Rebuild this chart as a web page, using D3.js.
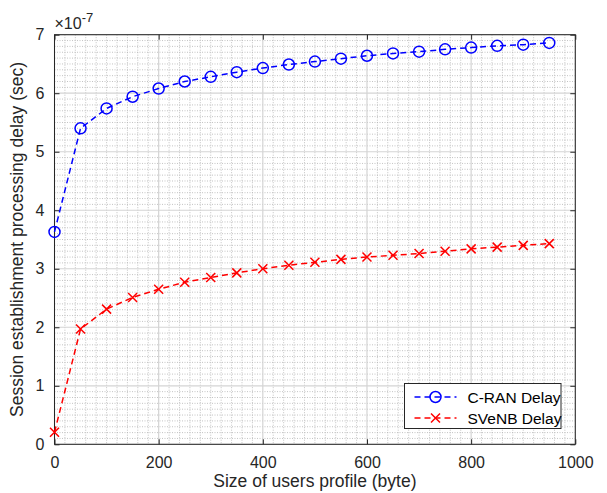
<!DOCTYPE html>
<html><head><meta charset="utf-8">
<script src="https://cdn.jsdelivr.net/npm/d3@7"></script>
<style>body{margin:0;background:#fff}svg{display:block}text{font-family:"Liberation Sans",Arial,sans-serif}</style>
</head><body><svg id="c" width="607" height="493"></svg>
<script>
const xValues = [0,50,100,150,200,250,300,350,400,450,500,550,600,650,700,750,800,850,900,950];
const cranDelay = [3.63,5.40,5.74,5.94,6.08,6.20,6.28,6.36,6.43,6.49,6.54,6.59,6.64,6.68,6.71,6.75,6.78,6.81,6.83,6.86];
const svenbDelay = [0.205,1.97,2.31,2.51,2.65,2.77,2.85,2.93,3.00,3.06,3.11,3.16,3.20,3.23,3.26,3.30,3.34,3.37,3.40,3.43];
const xTicks = [0,200,400,600,800,1000];
const yTicks = [0,1,2,3,4,5,6,7];
const seriesNames = ["C-RAN Delay","SVeNB Delay"];

const svg = d3.select("#c");
const L=54.5, R=575.3, T=34.7, B=444.3;
const x = d3.scaleLinear().domain([0,1000]).range([L,R]);
const y = d3.scaleLinear().domain([0,7]).range([B,T]);

const g = svg.append("g");
// minor grid
const xMinor = d3.range(0,1001,20).filter(v=>v%200!==0);
const yMinor = d3.range(0,71,1).map(v=>v/10).filter((v,i)=>i%10!==0);
g.selectAll(".xm").data(xMinor).enter().append("line")
 .attr("x1",d=>x(d)).attr("x2",d=>x(d)).attr("y1",T).attr("y2",B)
 .attr("stroke","#b4b4b4").attr("stroke-width",0.8).attr("stroke-dasharray","1,1.5");
g.selectAll(".ym").data(yMinor).enter().append("line")
 .attr("y1",d=>y(d)).attr("y2",d=>y(d)).attr("x1",L).attr("x2",R)
 .attr("stroke","#b4b4b4").attr("stroke-width",0.8).attr("stroke-dasharray","1,1.5");
// major grid
g.selectAll(".xM").data(xTicks).enter().append("line")
 .attr("x1",d=>x(d)).attr("x2",d=>x(d)).attr("y1",T).attr("y2",B)
 .attr("stroke","#d4d4d4").attr("stroke-width",1.2);
g.selectAll(".yM").data(yTicks).enter().append("line")
 .attr("y1",d=>y(d)).attr("y2",d=>y(d)).attr("x1",L).attr("x2",R)
 .attr("stroke","#d4d4d4").attr("stroke-width",1.2);

// axes
const fs = "16px";
const xAxis = svg.append("g").attr("transform",`translate(0,${B})`)
 .call(d3.axisBottom(x).tickValues(xTicks).tickSize(-5).tickPadding(12).tickFormat(d3.format("d")));
const xAxisTop = svg.append("g").attr("transform",`translate(0,${T})`)
 .call(d3.axisTop(x).tickValues(xTicks).tickSize(-5).tickFormat(""));
const yAxis = svg.append("g").attr("transform",`translate(${L},0)`)
 .call(d3.axisLeft(y).tickValues(yTicks).tickSize(-5).tickPadding(10).tickFormat(d3.format("d")));
const yAxisR = svg.append("g").attr("transform",`translate(${R},0)`)
 .call(d3.axisRight(y).tickValues(yTicks).tickSize(-5).tickFormat(""));
[xAxis,xAxisTop,yAxis,yAxisR].forEach(a=>{
  a.select(".domain").remove();
  a.selectAll("line").attr("stroke","#262626");
  a.selectAll("text").attr("fill","#262626").style("font-size",fs).style("font-family","Liberation Sans, Arial, sans-serif");
});
svg.append("rect").attr("x",L).attr("y",T).attr("width",R-L).attr("height",B-T)
 .attr("fill","none").attr("stroke","#262626").attr("stroke-width",1);

// exponent
const ex = svg.append("text").attr("x",L).attr("y",29).attr("fill","#262626").style("font-size","16px");
ex.append("tspan").text("\u00d710");
ex.append("tspan").attr("dy",-7).style("font-size","13px").text("-7");

// labels
svg.append("text").attr("x",(L+R)/2).attr("y",487).attr("text-anchor","middle")
 .attr("fill","#262626").style("font-size","17.5px").text("Size of users profile (byte)");
svg.append("text").attr("transform",`translate(23,${(T+B)/2}) rotate(-90)`).attr("text-anchor","middle")
 .attr("fill","#262626").style("font-size","17.5px").text("Session establishment processing delay (sec)");

// lines
const line = d3.line().x(d=>x(d[0])).y(d=>y(d[1]));
const cranData = xValues.map((v,i)=>[v,cranDelay[i]]);
const svenbData = xValues.map((v,i)=>[v,svenbDelay[i]]);
svg.append("path").datum(cranData).attr("d",line).attr("fill","none")
 .attr("stroke","#0000ff").attr("stroke-width",1.5).attr("stroke-dasharray","6,4");
svg.append("path").datum(svenbData).attr("d",line).attr("fill","none")
 .attr("stroke","#ff0000").attr("stroke-width",1.5).attr("stroke-dasharray","6,4");
svg.selectAll(".cm").data(cranData).enter().append("circle")
 .attr("cx",d=>x(d[0])).attr("cy",d=>y(d[1])).attr("r",5.5)
 .attr("fill","none").attr("stroke","#0000ff").attr("stroke-width",1.5);
const s=4.5;
svg.selectAll(".sm").data(svenbData).enter().append("path")
 .attr("d",d=>{const cx=x(d[0]),cy=y(d[1]);return `M${cx-s},${cy-s}L${cx+s},${cy+s}M${cx-s},${cy+s}L${cx+s},${cy-s}`;})
 .attr("stroke","#ff0000").attr("stroke-width",1.5).attr("fill","none");

// legend
const lg = svg.append("g");
const lx=404.5, ly=383.5, lw=156.5, lh=45;
lg.append("rect").attr("x",lx).attr("y",ly).attr("width",lw).attr("height",lh)
 .attr("fill","#fff").attr("stroke","#262626").attr("stroke-width",1);
const colors=["#0000ff","#ff0000"];
seriesNames.forEach((n,i)=>{
  const cy = ly+13.5+i*21;
  lg.append("line").attr("x1",lx+10).attr("x2",lx+52).attr("y1",cy).attr("y2",cy)
   .attr("stroke",colors[i]).attr("stroke-width",1.5).attr("stroke-dasharray","6,4");
  const mx = lx+31;
  if(i===0) lg.append("circle").attr("cx",mx).attr("cy",cy).attr("r",5.5).attr("fill","none").attr("stroke",colors[i]).attr("stroke-width",1.5);
  else lg.append("path").attr("d",`M${mx-s},${cy-s}L${mx+s},${cy+s}M${mx-s},${cy+s}L${mx+s},${cy-s}`).attr("stroke",colors[i]).attr("stroke-width",1.5);
  lg.append("text").attr("x",lx+63).attr("y",cy+5.5).attr("fill","#000").style("font-size","15.5px").text(n);
});
</script></body></html>
